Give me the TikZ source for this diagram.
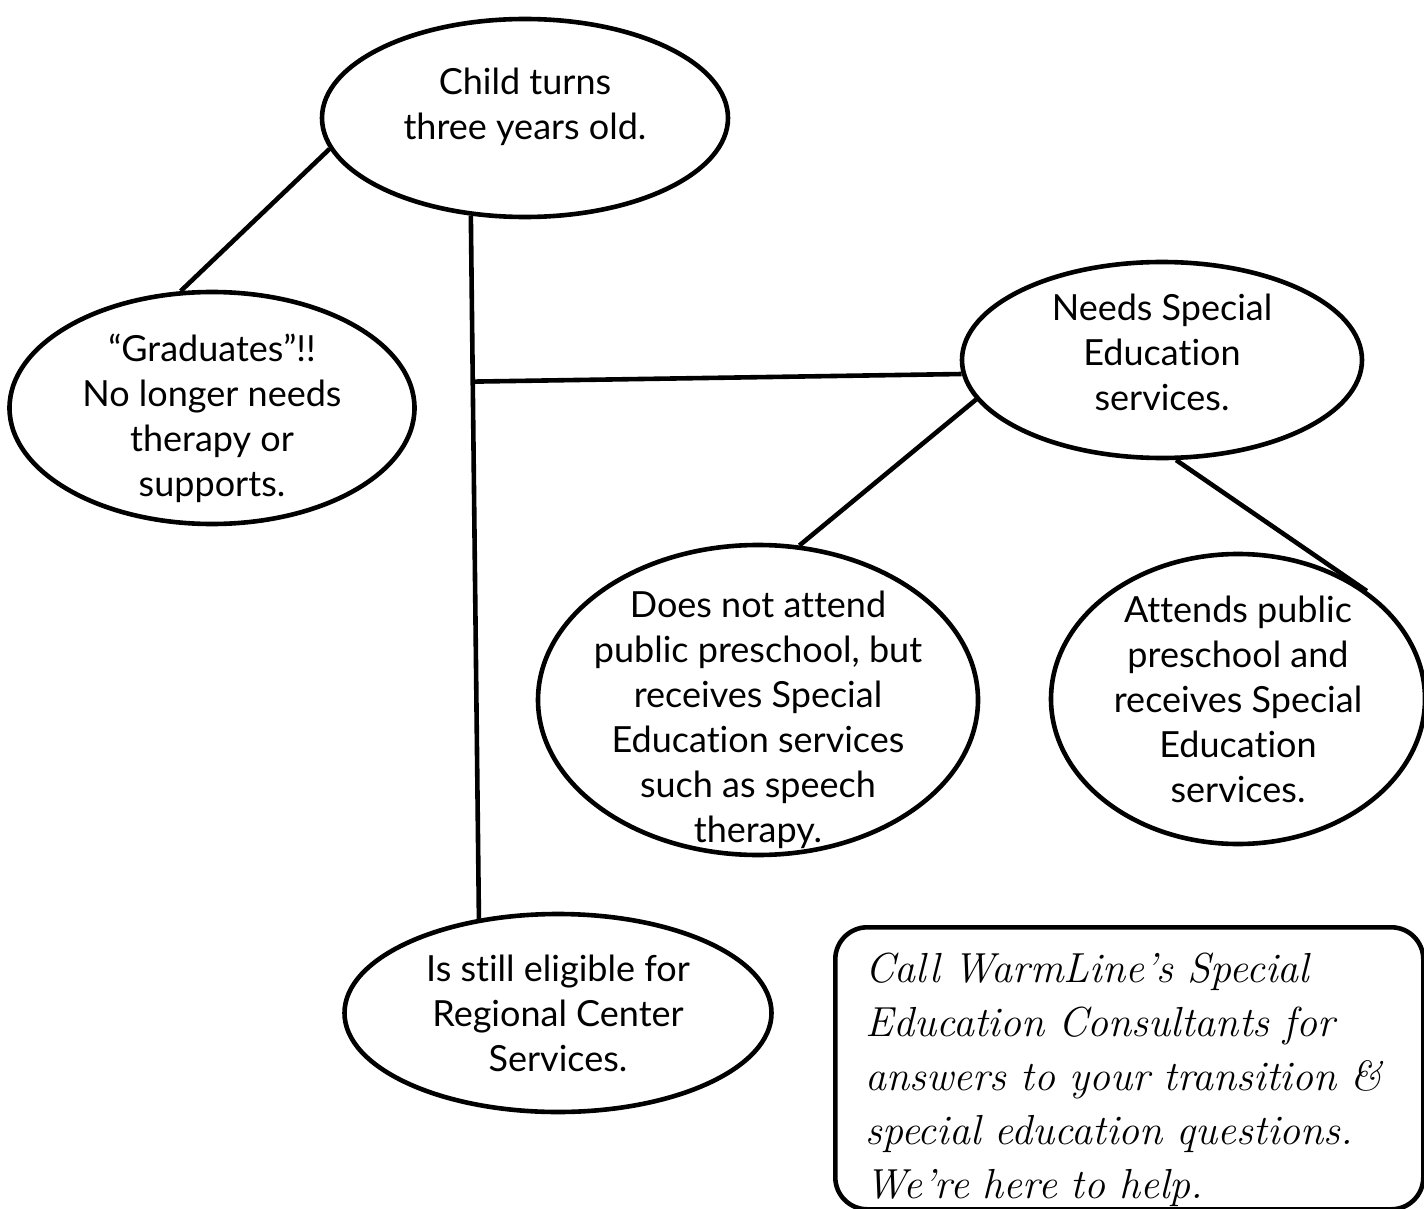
\documentclass[tikz,border=0pt]{standalone}
\usepackage{fontspec}
\newfontfamily\ovalfont[Ligatures=NoCommon]{Lato}
\usetikzlibrary{shapes.geometric, calc}

\tikzset{
  oval/.style={draw, ellipse, line width=2.3pt, inner sep=0pt},
  ovaltext/.style={align=center, inner sep=0pt, font=\ovalfont\fontsize{18}{22.5}\selectfont},
  callbox/.style={draw, rectangle, rounded corners=16pt, line width=2.3pt, inner sep=0pt},
  handtext/.style={align=left, inner sep=0pt, text width=275pt, font=\itshape\fontsize{21}{27}\selectfont},
  link/.style={line width=2.3pt},
}

\begin{document}
\begin{tikzpicture}[x=0.5pt, y=-0.5pt]
            \useasboundingbox (0,0) rectangle (1424,1209);

            \node[oval, minimum width=203pt, minimum height=99pt,
                  label={[ovaltext, yshift=5.5pt]center:{Child turns\\three years old.}}] (child) at (525,118) {};
            \node[oval, minimum width=202.5pt, minimum height=116pt,
                  label={[ovaltext, yshift=-5pt]center:{“Graduates”!!\\No longer needs\\therapy or\\supports.}}] (grad) at (212,408) {};
            \node[oval, minimum width=200pt, minimum height=98pt,
                  label={[ovaltext, yshift=4pt]center:{Needs Special\\Education\\services.}}] (needs) at (1162,360) {};
            \node[oval, minimum width=220pt, minimum height=155pt,
                  label={[ovaltext, yshift=-10pt]center:{Does not attend\\public preschool, but\\receives Special\\Education services\\such as speech\\therapy.}}] (dna) at (758,700) {};
            \node[oval, minimum width=187pt, minimum height=145pt,
                  label={[ovaltext]center:{Attends public\\preschool and\\receives Special\\Education\\services.}}] (att) at (1238,699) {};
            \node[oval, minimum width=213.5pt, minimum height=99pt,
                  label={[ovaltext]center:{Is still eligible for\\Regional Center\\Services.}}] (elig) at (558,1013) {};

            \node[callbox, minimum width=294pt, minimum height=141pt, anchor=north west,
                  label={[handtext, anchor=west, xshift=16pt, yshift=-5.5pt]west:{Call WarmLine’s Special\\Education Consultants for\\answers to your transition \&\\special education questions.\\We’re here to help.}}] (call) at (833,925) {};

            % Connections
            \draw[link] (child.189) -- (grad.105);
            \draw[link] (child.241) -- (elig.130);
            \coordinate (tee) at ($(child.241)!0.236!(elig.130)$);
            \draw[link] (tee) -- (needs.184);

            \draw[link] (needs.192) -- (dna.75);
            \draw[link] (needs.278) -- (att.40);

        \end{tikzpicture}
\end{document}
